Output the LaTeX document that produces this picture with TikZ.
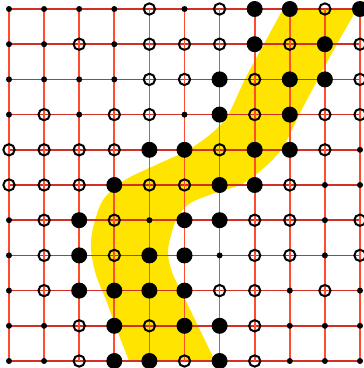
\documentclass[tikz,border=0pt]{standalone}
\definecolor{hline}{RGB}{210,48,36}
\definecolor{vline}{RGB}{255,76,44}
\definecolor{bandyellow}{RGB}{255,228,0}
\begin{document}
\begin{tikzpicture}[x=1pt,y=-1pt,
  mks/.style={circle,fill=black,inner sep=0pt,minimum size=6pt},
  mko/.style={circle,draw=black,line width=2pt,inner sep=0pt,minimum size=11.3pt},
  mkb/.style={circle,fill=black,inner sep=0pt,minimum size=16pt},
  hgrid/.style={draw=hline,line width=1.7pt},
  vgrid/.style={draw=vline,line width=1.7pt},
  bandfill/.style={fill=bandyellow}]
\useasboundingbox (0,0) rectangle (364,368);
\foreach \c in {0,...,10}{\foreach \r in {0,...,10}{\coordinate (p-\c-\r) at ({9+35.1*\c},{9+35.2*\r});}}
\begin{scope}
\clip (p-0-0) rectangle (p-10-10);
\fill[bandfill] plot[smooth] coordinates {(288,0) (283,9) (264,44) (245,79) (228,115) (212,133) (188,150) (158,164) (125,180) (103,200) (93,228) (91,250) (96,275) (106,300) (117,330) (129,361) (133,372)}
 -- plot[smooth] coordinates {(220,372) (215,361) (200,330) (184,297) (172,272) (168,250) (176,220) (189,204) (212,194) (242,184) (265,167) (281,150) (292,130) (299,115) (318,79) (337,44) (357,9) (362,0)} -- cycle;
\end{scope}
\foreach \r in {0,...,10}{\draw[hgrid] (p-0-\r) -- (p-10-\r);}
\foreach \c in {0,...,10}{\draw[vgrid] (p-\c-0) -- (p-\c-10);}
\foreach \r/\row in {
 0/{s,s,s,s,o,s,o,b,b,o,b},
 1/{s,s,o,s,o,o,o,b,o,b,o},
 2/{s,s,s,s,o,o,b,o,b,b,o},
 3/{s,o,s,o,o,s,b,o,b,o,o},
 4/{o,o,o,o,b,b,o,b,b,o,s},
 5/{o,o,o,b,o,o,b,b,o,s,s},
 6/{s,o,b,o,s,b,b,o,o,s,o},
 7/{s,o,b,o,b,b,s,o,o,s,o},
 8/{s,o,b,b,b,b,o,o,s,o,s},
 9/{s,s,o,b,o,b,b,o,s,s,s},
 10/{s,s,o,b,b,o,b,o,s,s,s}}{
  \foreach \t [count=\c from 0] in \row {\node[mk\t] (m-\c-\r) at (p-\c-\r) {};}
}
\end{tikzpicture}
\end{document}
